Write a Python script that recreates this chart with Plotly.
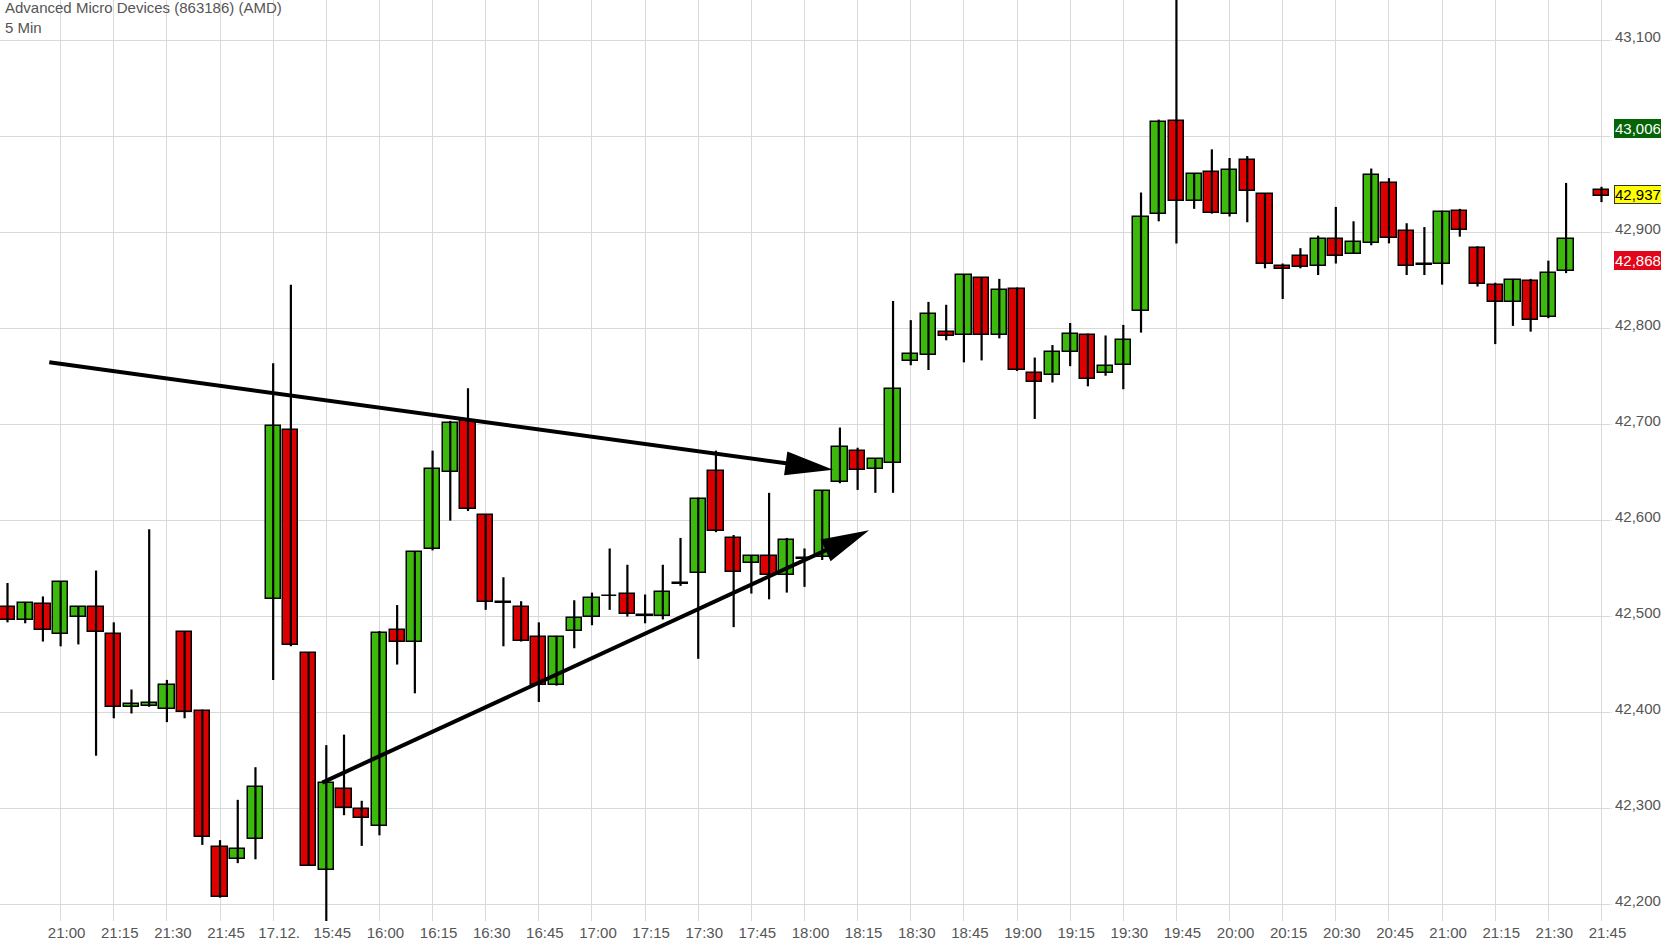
import math
import pandas as pd
import plotly.graph_objects as go

# ---------------- data ----------------
title_lines = ["Advanced Micro Devices (863186) (AMD)", "5 Min"]

# 5-minute slots of the two sessions shown on the axis
session1 = [t.strftime("16.12. %H:%M") for t in pd.date_range("2018-12-16 20:45", "2018-12-16 21:55", freq="5min")]
session2 = [t.strftime("17.12. %H:%M") for t in pd.date_range("2018-12-17 15:30", "2018-12-17 21:45", freq="5min")]
axis_slots = session1 + session2

times = session1 + session2[:-2] + [session2[-1]]   # 21:40 slot of 17.12. has no candle

opens = [42.510, 42.496, 42.513, 42.482, 42.500, 42.510, 42.482, 42.406, 42.407, 42.404,
         42.484, 42.402, 42.260, 42.247, 42.268, 42.518, 42.695, 42.462, 42.236, 42.320,
         42.299, 42.282, 42.486, 42.473, 42.570, 42.651, 42.704, 42.606, 42.514, 42.510,
         42.479, 42.429, 42.485, 42.500, 42.521, 42.524, 42.501, 42.501, 42.534, 42.545,
         42.652, 42.582, 42.556, 42.563, 42.543, 42.560, 42.562, 42.640, 42.673, 42.654,
         42.660, 42.766, 42.773, 42.797, 42.793, 42.853, 42.793, 42.841, 42.754, 42.752,
         42.776, 42.794, 42.754, 42.762, 42.819, 42.920, 43.017, 42.933, 42.963, 42.920,
         42.976, 42.940, 42.865, 42.876, 42.865, 42.894, 42.878, 42.889, 42.952, 42.902,
         42.866, 42.867, 42.923, 42.884, 42.846, 42.828, 42.850, 42.812, 42.860, 42.945]
highs = [42.535, 42.515, 42.521, 42.537, 42.511, 42.548, 42.494, 42.424, 42.591, 42.434,
         42.485, 42.403, 42.267, 42.309, 42.343, 42.764, 42.846, 42.463, 42.366, 42.377,
         42.308, 42.485, 42.512, 42.568, 42.673, 42.704, 42.738, 42.607, 42.541, 42.516,
         42.494, 42.480, 42.517, 42.525, 42.571, 42.554, 42.523, 42.554, 42.582, 42.624,
         42.673, 42.585, 42.564, 42.629, 42.582, 42.571, 42.632, 42.697, 42.676, 42.664,
         42.829, 42.809, 42.828, 42.825, 42.857, 42.854, 42.852, 42.843, 42.770, 42.783,
         42.806, 42.795, 42.793, 42.804, 42.942, 43.018, 43.160, 42.962, 42.987, 42.978,
         42.980, 42.941, 42.868, 42.884, 42.897, 42.927, 42.912, 42.967, 42.957, 42.910,
         42.906, 42.923, 42.925, 42.886, 42.848, 42.852, 42.852, 42.871, 42.952, 42.948]
lows = [42.494, 42.493, 42.474, 42.469, 42.471, 42.355, 42.394, 42.399, 42.406, 42.390,
        42.394, 42.262, 42.207, 42.243, 42.247, 42.434, 42.469, 42.240, 42.180, 42.293,
        42.261, 42.272, 42.450, 42.420, 42.569, 42.600, 42.610, 42.507, 42.469, 42.474,
        42.411, 42.428, 42.467, 42.491, 42.507, 42.500, 42.493, 42.497, 42.532, 42.456,
        42.588, 42.489, 42.524, 42.518, 42.525, 42.531, 42.559, 42.639, 42.632, 42.629,
        42.629, 42.762, 42.757, 42.788, 42.765, 42.767, 42.790, 42.756, 42.706, 42.744,
        42.761, 42.740, 42.751, 42.737, 42.796, 42.912, 42.889, 42.925, 42.920, 42.917,
        42.911, 42.863, 42.831, 42.863, 42.856, 42.868, 42.878, 42.887, 42.889, 42.856,
        42.856, 42.846, 42.896, 42.844, 42.784, 42.803, 42.797, 42.811, 42.858, 42.932]
closes = [42.496, 42.514, 42.486, 42.536, 42.510, 42.484, 42.406, 42.409, 42.410, 42.429,
          42.401, 42.270, 42.208, 42.258, 42.322, 42.699, 42.470, 42.240, 42.327, 42.300,
          42.290, 42.483, 42.474, 42.567, 42.654, 42.702, 42.612, 42.515, 42.514, 42.475,
          42.429, 42.479, 42.499, 42.519, 42.521, 42.503, 42.501, 42.526, 42.534, 42.623,
          42.589, 42.546, 42.563, 42.543, 42.580, 42.560, 42.631, 42.677, 42.653, 42.664,
          42.737, 42.774, 42.815, 42.792, 42.856, 42.794, 42.840, 42.757, 42.744, 42.776,
          42.795, 42.748, 42.761, 42.788, 42.916, 43.015, 42.933, 42.961, 42.921, 42.965,
          42.944, 42.867, 42.862, 42.864, 42.894, 42.876, 42.890, 42.960, 42.895, 42.865,
          42.868, 42.922, 42.903, 42.847, 42.828, 42.851, 42.809, 42.858, 42.894, 42.938]

tick_slots = ["16.12. 21:00", "16.12. 21:15", "16.12. 21:30", "16.12. 21:45",
              "17.12. 15:30", "17.12. 15:45", "17.12. 16:00", "17.12. 16:15", "17.12. 16:30",
              "17.12. 16:45", "17.12. 17:00", "17.12. 17:15", "17.12. 17:30", "17.12. 17:45",
              "17.12. 18:00", "17.12. 18:15", "17.12. 18:30", "17.12. 18:45", "17.12. 19:00",
              "17.12. 19:15", "17.12. 19:30", "17.12. 19:45", "17.12. 20:00", "17.12. 20:15",
              "17.12. 20:30", "17.12. 20:45", "17.12. 21:00", "17.12. 21:15", "17.12. 21:30",
              "17.12. 21:45"]
tick_labels = ["21:00", "21:15", "21:30", "21:45", "17.12.", "15:45", "16:00", "16:15", "16:30",
               "16:45", "17:00", "17:15", "17:30", "17:45", "18:00", "18:15", "18:30", "18:45",
               "19:00", "19:15", "19:30", "19:45", "20:00", "20:15", "20:30", "20:45", "21:00",
               "21:15", "21:30", "21:45"]
price_ticks = [42.2, 42.3, 42.4, 42.5, 42.6, 42.7, 42.8, 42.9, 43.0, 43.1]
# 43,000 is hidden behind the 43,006 marker in the original
price_tick_labels = ["42,200", "42,300", "42,400", "42,500", "42,600", "42,700", "42,800",
                     "42,900", "", "43,100"]

# price markers on the right edge: value, background, text colour
marker_values = [43.006, 42.937, 42.868]
marker_bg = ["#056405", "#ffff00", "#e2061b"]
marker_fg = ["#ffffff", "#000000", "#ffffff"]
marker_border = ["#056405", "#333333", "#e2061b"]

# hand-drawn trend arrows: (start time slot, start price) -> (tip time slot, tip price)
arrow_start_slot = [2.36, 17.77]
arrow_start_price = [42.765, 42.327]
arrow_tip_slot = [46.62, 48.65]
arrow_tip_price = [42.653, 42.590]

# ---------------- styling / geometry ----------------
W, H = 1661, 942
M_L, M_R, M_T, M_B = 0, 49, 0, 21
plot_w, plot_h = W - M_L - M_R, H - M_T - M_B
x_range = [-0.4236, -0.4236 + plot_w / 17.733]
y_range = [42.1827, 42.1827 + plot_h / 959.4]
GREEN, RED = "#3cb90c", "#dd0000"
GRID = "#d9d9d9"
TXT = "#555555"
FONT = "Arial, Liberation Sans, sans-serif"
FS = 15
body_width = 0.86
min_body = 0.0008

xpos = [axis_slots.index(t) for t in times]

fig = go.Figure()

# wicks
wx, wy = [], []
for x, h, l in zip(xpos, highs, lows):
    wx += [x, x, None]
    wy += [l, h, None]
fig.add_trace(go.Scatter(x=wx, y=wy, mode="lines", line=dict(color="black", width=2.2),
                         hoverinfo="skip", showlegend=False))

# bodies
for up, color in [(True, GREEN), (False, RED)]:
    bx, bbase, bh = [], [], []
    for x, o, c in zip(xpos, opens, closes):
        if (c >= o) == up:
            bx.append(x)
            bbase.append(min(o, c))
            bh.append(max(abs(c - o), min_body))
    fig.add_trace(go.Bar(x=bx, y=bh, base=bbase, width=body_width,
                         marker=dict(color=color, line=dict(color="black", width=1.5)),
                         hoverinfo="skip", showlegend=False))

# arrows
ppx = plot_w / (x_range[1] - x_range[0])
ppy = plot_h / (y_range[1] - y_range[0])
HEAD_L, HEAD_HW = 48, 12
shapes = []
for xs, ys, xt, yt in zip(arrow_start_slot, arrow_start_price, arrow_tip_slot, arrow_tip_price):
    dx = (xt - xs) * ppx
    dy = -(yt - ys) * ppy
    L = math.hypot(dx, dy)
    ux, uy = dx / L, dy / L
    nx, ny = -uy, ux
    bxp, byp = -ux * HEAD_L, -uy * HEAD_L  # base centre relative to tip (pixels)

    def to_data(px, py):
        return xt + px / ppx, yt - py / ppy
    p1 = to_data(bxp + nx * HEAD_HW, byp + ny * HEAD_HW)
    p2 = to_data(bxp - nx * HEAD_HW, byp - ny * HEAD_HW)
    shaft_end = to_data(-ux * (HEAD_L - 6), -uy * (HEAD_L - 6))
    shapes.append(dict(type="line", xref="x", yref="y", x0=xs, y0=ys,
                       x1=shaft_end[0], y1=shaft_end[1], line=dict(color="black", width=4)))
    shapes.append(dict(type="path", xref="x", yref="y",
                       path=f"M {xt},{yt} L {p1[0]},{p1[1]} L {p2[0]},{p2[1]} Z",
                       fillcolor="black", line=dict(width=0)))

annotations = [dict(xref="paper", yref="paper", x=0, y=1, xanchor="left", yanchor="top",
                    xshift=3, yshift=3, align="left", showarrow=False,
                    text="<br>".join(title_lines), font=dict(size=FS, color=TXT, family=FONT))]
for v, bg, fg, bc in zip(marker_values, marker_bg, marker_fg, marker_border):
    annotations.append(dict(xref="paper", yref="y", x=1, y=v, xanchor="left", yanchor="middle",
                            xshift=4, yshift=3, showarrow=False, text=f"{v:.3f}".replace(".", ","),
                            bgcolor=bg, bordercolor=bc, borderwidth=1, borderpad=0,
                            font=dict(size=FS, color=fg, family=FONT)))

fig.update_layout(
    width=W, height=H,
    margin=dict(l=M_L, r=M_R, t=M_T, b=M_B, pad=0),
    paper_bgcolor="white", plot_bgcolor="white",
    barmode="overlay", bargap=0,
    separators=",.",
    showlegend=False,
    shapes=shapes,
    annotations=annotations,
    xaxis=dict(range=x_range, tickmode="array",
               tickvals=[axis_slots.index(t) for t in tick_slots], ticktext=tick_labels,
               showgrid=True, gridcolor=GRID, gridwidth=1, zeroline=False, showline=False,
               ticks="", ticklabelshift=6, ticklabelstandoff=1,
               tickfont=dict(size=FS, color=TXT, family=FONT), fixedrange=True),
    yaxis=dict(range=y_range, side="right", tickmode="array", tickvals=price_ticks,
               ticktext=price_tick_labels, showgrid=True, gridcolor=GRID, gridwidth=1,
               zeroline=False, showline=False, ticks="outside", ticklen=1, tickcolor=GRID,
               ticklabelshift=-4,
               tickfont=dict(size=FS, color=TXT, family=FONT), fixedrange=True),
)

fig.write_html("out.html", config={"displayModeBar": False},
               post_script="document.body.style.margin='0';document.body.style.overflow='hidden';")
